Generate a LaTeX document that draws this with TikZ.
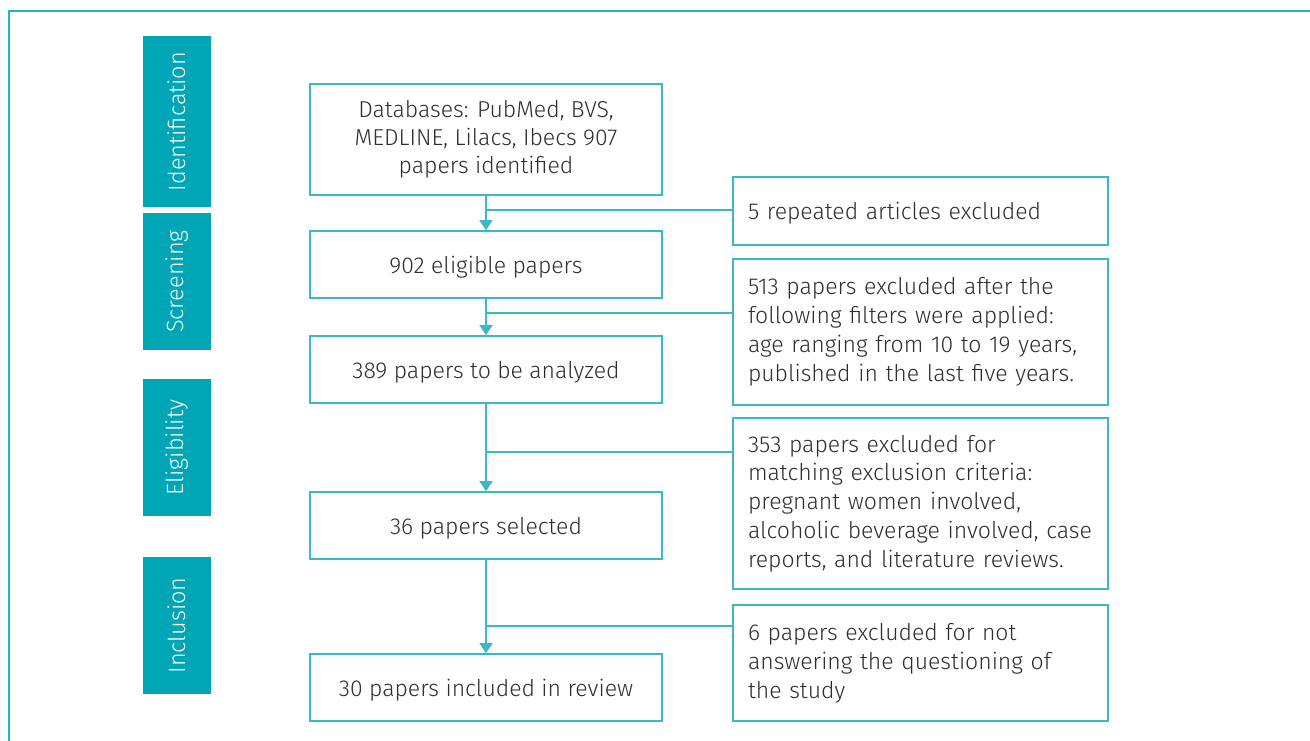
\documentclass[tikz,border=0pt]{standalone}
\usepackage{fontspec}
\setmainfont{Fira Sans}[UprightFont=* Light]
\usetikzlibrary{arrows.meta}
\definecolor{teal1}{HTML}{00A5B6}
\definecolor{line1}{HTML}{3BB8C6}
\definecolor{frame1}{HTML}{1DB4C8}
\definecolor{txt}{HTML}{2E2E2E}
\tikzset{
  bar/.style={fill=teal1, draw=none, text=white, rotate=90, inner sep=0pt,
    font=\fontsize{23.5}{26}\selectfont},
  lbox/.style={draw=line1, line width=1.6pt, text=txt, align=center, inner sep=0pt,
    minimum width=352pt, font=\fontsize{23}{28}\selectfont},
  rbox/.style={draw=line1, line width=1.6pt, text=txt, align=left, inner xsep=15pt, inner ysep=0pt,
    text width=345pt, font=\fontsize{23}{28.8}\selectfont},
  flow/.style={draw=line1, line width=1.6pt, -{Triangle[width=13pt,length=10pt]}},
  branch/.style={draw=line1, line width=1.6pt},
}
\begin{document}
\begin{tikzpicture}[x=1pt,y=-1pt]
\useasboundingbox (0,0) rectangle (1310,740);
\draw[frame1, line width=2pt] (9,760) -- (9,11) -- (1330,11);

\node[bar, minimum width=171pt, minimum height=68pt] (id) at (177,121.5) {Identification};
\node[bar, minimum width=137pt, minimum height=68pt] (sc) at (177,281.5) {Screening};
\node[bar, minimum width=137pt, minimum height=68pt] (el) at (177,447.5) {Eligibility};
\node[bar, minimum width=137pt, minimum height=68pt] (in) at (177,625.5) {Inclusion};

\node[lbox, minimum height=111pt] (b1) at (486,139.5) {Databases: PubMed, BVS,\\MEDLINE, Lilacs, Ibecs 907\\papers identified};
\node[lbox, minimum height=67pt, text depth=0pt] (b2) at (486,264.5) {902 eligible papers};
\node[lbox, minimum height=67pt, text depth=0pt] (b3) at (486,369.5) {389 papers to be analyzed};
\node[lbox, minimum height=67pt, text depth=0pt] (b4) at (486,525.5) {36 papers selected};
\node[lbox, minimum height=67pt, text depth=0pt] (b5) at (486,687.5) {30 papers included in review};

\node[rbox, minimum height=68pt, text depth=0pt] (r1) at (920.5,211) {5 repeated articles excluded};
\node[rbox, minimum height=146pt] (r2) at (920.5,332) {513 papers excluded after the\\following filters were applied:\\age ranging from 10 to 19 years,\\published in the last five years.};
\node[rbox, minimum height=171pt] (r3) at (920.5,503.5) {353 papers excluded for\\matching exclusion criteria:\\pregnant women involved,\\alcoholic beverage involved, case\\reports, and literature reviews.};
\node[rbox, minimum height=116pt] (r4) at (920.5,663) {6 papers excluded for not\\answering the questioning of\\the study};

\coordinate (j1) at (486,210);
\coordinate (j2) at (486,313);
\coordinate (j3) at (486,452);
\coordinate (j4) at (486,626);

\draw[flow] (b1) -- (b2);
\draw[flow] (b2) -- (b3);
\draw[flow] (b3) -- (b4);
\draw[flow] (b4) -- (b5);
\draw[branch] (r1.west |- j1) -- (j1);
\draw[branch] (r2.west |- j2) -- (j2);
\draw[branch] (r3.west |- j3) -- (j3);
\draw[branch] (r4.west |- j4) -- (j4);
\end{tikzpicture}
\end{document}
